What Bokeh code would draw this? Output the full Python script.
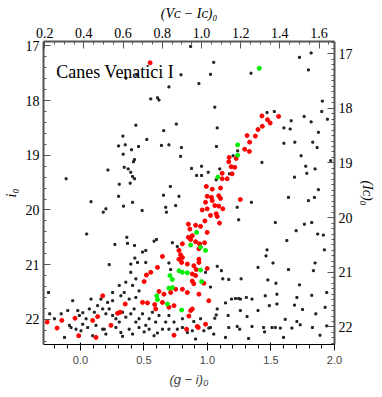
from bokeh.plotting import figure
from bokeh.models import Range1d, LinearAxis, SingleIntervalTicker, Label, PrintfTickFormatter
from bokeh.embed import file_html
from bokeh.resources import INLINE

# ---- data: (g-i)_0 colour and i_0 magnitude ----
black_gi = [0.359, 0.444, 0.697, 0.792, 0.554, 0.607, 0.619, 0.437, 0.755, 0.656, 0.335, 0.523, 0.301, 0.353,
            0.458, 0.638, 0.697, 0.403, 0.795, 0.789, 0.337, 0.426, 0.418, 0.217, 0.345, 0.376, 0.397, 0.411,
            0.426, -0.112, 0.868, 1.724, 1.816, 1.050, 1.024, 1.343, 1.795, 0.933, 1.904, 1.058, 1.469, 1.526,
            1.659, 1.761, 1.816, 1.900, 1.944, 1.077, 1.602, 1.651, 1.873, 1.602, 1.688, 1.829, 1.863, 1.071,
            1.238, 1.202, 1.429, 1.737, 1.970, 0.875, 0.954, 1.097, 1.774, 1.847, 1.006, 0.915, 0.954, 1.173,
            1.782, 1.685, 1.069,
            -0.251, 0.084, 0.180, 0.201, 0.050, 0.301, 0.340, 0.411, 0.392, 0.306, 0.486, 0.654, 0.708, 0.776,
            0.750, 0.672, 0.677, 0.272, 0.227, 0.366, 0.371, 0.426, 0.429, 0.489, 0.515, 0.580, 0.599, 0.724,
            0.763, 0.697, 0.711, 0.397, 0.450, 0.515, 0.397, 0.437,
            -0.241, -0.204, -0.151, -0.099, -0.060, -0.020, -0.008, 0.019, 0.045, 0.071, 0.084, 0.110, 0.136,
            0.176, 0.201, 0.227, 0.254, 0.280, 0.306, 0.332, 0.358, 0.397, 0.423, 0.437, 0.462, 0.489, 0.515,
            0.541, 0.567, 0.593, 0.619, 0.646, 0.672, 0.697, 0.737, 0.763, 0.803, -0.086, -0.034, 0.019, 0.123,
            0.188, 0.254, 0.319, 0.345, 0.384, 0.437, 0.462, 0.411, 0.358, 0.306, 0.254, 0.215, 0.162,
            1.234, 1.346, 1.246, 1.534, 1.638, 1.763, 1.821, 1.625, 1.698, 1.795, 1.842, 1.873, 1.868, 1.912,
            1.920, 1.469, 1.461, 1.516, 1.398, 1.638, 1.834, 1.847, 1.476, 1.539, 1.724, 1.110, 1.121, 1.077,
            1.265, 1.168, 1.024, 0.985, 1.547, 1.704, 1.821, 1.939, 1.455, 1.351, 1.306, 1.220, 1.246, 1.259,
            1.189, 1.142, 1.487, 1.547, 1.685, 1.748, 1.853, 1.926, 1.259, 1.398, 1.312, 1.163, 1.077, 1.069,
            1.058, 1.612, 1.704, 1.442, 1.168, 1.234, 1.254, 1.351, 1.508, 1.573, 1.665, 1.826, 1.939, 1.024,
            0.972, 0.946, 0.893,
            -0.125, -0.073, 0.005, 0.058, 0.097, 0.176, 0.201, 0.280, 0.319, 0.332, 0.384, 0.411, 0.462, 0.502,
            0.541, 0.580, 0.607, 0.697, 0.803, 0.842, 0.881, 1.011, 1.050, 1.450, 1.534, 1.599, 1.730, 1.886,
            1.142, 1.324, 0.907]
black_i0 = [17.59, 17.53, 17.75, 17.53, 17.97, 17.95, 17.99, 18.45, 18.43, 18.55, 18.65, 18.71, 18.83, 18.81,
            18.84, 18.82, 18.81, 18.90, 18.86, 19.02, 18.98, 19.08, 19.12, 19.27, 19.22, 19.25, 19.31, 19.39,
            19.43, 19.43, 17.01, 17.21, 17.13, 17.30, 17.52, 17.50, 17.44, 17.69, 18.01, 18.12, 18.22, 18.20,
            18.37, 18.29, 18.39, 18.20, 18.34, 18.50, 18.50, 18.52, 18.58, 18.78, 18.76, 18.76, 18.86, 18.84,
            18.92, 19.01, 19.13, 19.01, 19.10, 19.24, 19.20, 19.25, 19.20, 19.25, 19.31, 19.37, 19.37, 19.34,
            19.33, 19.40, 19.45,
            21.51, 19.85, 20.04, 19.98, 20.44, 19.75, 19.93, 19.86, 19.51, 19.53, 20.01, 19.73, 19.57, 19.75,
            19.92, 19.95, 20.04, 20.63, 21.00, 20.50, 20.61, 20.65, 20.88, 20.77, 20.74, 20.57, 20.54, 20.60,
            20.67, 20.97, 21.09, 20.99, 20.96, 20.96, 21.14, 21.26,
            21.90, 21.99, 21.90, 21.84, 21.66, 21.84, 21.93, 21.88, 21.99, 21.81, 21.63, 21.87, 21.75,
            21.81, 21.90, 21.81, 21.93, 21.99, 22.05, 21.87, 21.96, 21.90, 21.81, 22.05, 21.99, 21.90, 22.11,
            21.99, 21.87, 22.05, 21.93, 22.18, 22.05, 21.93, 22.05, 22.18, 21.99, 22.11, 22.18, 22.09, 22.11,
            22.18, 21.66, 21.57, 21.51, 21.63, 21.60, 21.48, 21.38, 21.32, 21.38, 21.51, 21.69, 21.63,
            19.95, 19.86, 20.18, 20.23, 19.77, 20.26, 20.23, 20.56, 20.38, 19.83, 19.77, 19.63, 20.44, 20.46,
            20.73, 20.73, 20.84, 20.97, 21.05, 21.09, 21.11, 20.97, 21.28, 21.34, 21.37, 21.11, 21.26, 21.03,
            21.26, 21.27, 21.41, 21.14, 21.54, 21.60, 21.56, 21.51, 21.57, 21.63, 21.60, 21.62, 21.62, 21.63,
            21.63, 21.70, 21.75, 21.72, 21.74, 21.82, 21.90, 21.78, 21.84, 21.84, 21.95, 21.93, 21.81, 21.92,
            21.98, 22.00, 22.04, 22.15, 22.15, 22.13, 22.18, 22.13, 22.15, 22.16, 22.16, 22.15, 22.12, 22.15,
            22.21, 21.99, 22.04,
            22.33, 22.15, 22.21, 22.15, 22.30, 22.18, 22.27, 22.15, 22.24, 22.31, 22.18, 22.27, 22.15, 22.23,
            22.18, 22.30, 22.25, 22.18, 22.15, 22.24, 22.21, 22.16, 22.27, 22.23, 22.15, 22.33, 22.10, 22.29,
            22.33, 22.35, 22.36]

red_gi = [0.549, 1.429, 1.560, 1.473, 1.494, 1.432, 1.398, 1.312, 1.377, 1.332, 1.293, 1.330, 1.171, 1.226,
          1.168, 1.187, 1.215, 1.116, 1.194, 1.116, 1.155, 0.991, 1.038, 1.103, 0.998, 1.032, 1.089, 1.103,
          1.259, 0.985, 1.038, 1.058, 1.089, 1.121, 0.959, 0.998, 1.024, 1.069, 1.077, 0.980, 1.095, 0.850,
          0.907, 0.946, 0.998, 0.862, 0.881, 0.850, 0.868, 0.907, 0.938, 0.977, 0.933, 0.803, 0.776, 0.789,
          0.803, 0.776, 0.797, 0.646, 0.933, 0.933, 0.893, 0.842, 0.998, 0.912, 0.607, 0.554, 0.520, 0.881,
          0.907, 0.502, 0.881, 0.893, 0.972, 0.619, 0.658, 0.711, 0.750, 0.803, 0.842, 0.933, 0.176, 0.646,
          0.697, 0.737, 0.585, 0.593, 0.489, 0.528, 0.353, 0.313, 0.293, 1.011, 0.881, 0.868, 0.854, 0.136,
          0.097, -0.042, -0.146, -0.261, -0.183, 0.241, 0.985, 0.920, 0.836, -0.013, 0.123, 0.737, 0.928]
red_i0 = [17.31, 18.28, 18.29, 18.35, 18.41, 18.47, 18.53, 18.64, 18.65, 18.76, 18.89, 18.93, 19.04, 19.06,
          19.12, 19.21, 19.22, 19.33, 19.34, 19.43, 19.43, 19.57, 19.62, 19.60, 19.75, 19.77, 19.74, 19.79,
          19.81, 19.86, 19.83, 19.92, 19.93, 19.98, 20.00, 19.98, 20.10, 20.07, 20.12, 20.20, 20.24, 20.26,
          20.28, 20.30, 20.41, 20.35, 20.47, 20.50, 20.54, 20.58, 20.62, 20.60, 20.71, 20.62, 20.74, 20.82,
          20.87, 20.90, 20.96, 20.85, 20.90, 20.96, 21.02, 20.99, 21.07, 21.09, 21.05, 21.14, 21.19, 21.17,
          21.20, 21.31, 21.30, 21.35, 21.34, 21.49, 21.54, 21.51, 21.45, 21.45, 21.51, 21.54, 21.57, 21.69,
          21.78, 21.75, 21.73, 21.81, 21.69, 21.70, 21.72, 21.87, 21.89, 21.66, 21.81, 21.84, 21.94, 21.95,
          22.02, 21.98, 22.02, 22.05, 22.16, 22.11, 22.09, 22.13, 22.18, 22.30, 22.33, 22.29, 22.15]

green_gi = [1.408, 1.238, 1.238, 1.082, 0.915, 0.868, 0.946, 0.985, 0.946, 0.842, 0.954, 0.776, 0.705, 0.803,
            0.724, 0.697, 0.724, 0.601, 0.607, 0.685, 0.797]
green_i0 = [17.41, 18.81, 19.00, 19.40, 20.41, 20.64, 20.68, 20.74, 21.10, 21.15, 21.31, 21.11, 21.20, 21.14,
            21.27, 21.43, 21.42, 21.57, 21.64, 21.72, 21.83]

title_text = "Canes Venatici I"
xlabel = "(g \u2212 i)\u2080"
ylabel = "i\u2080"
toplabel = "(V\u1d04 \u2212 I\u1d04)\u2080"
rightlabel = "(I\u1d04)\u2080"

FONT = "Liberation Serif"
AXIS_COLOR = "#555555"

p = figure(frame_width=291, frame_height=303,
           min_border_left=39, min_border_right=40, min_border_top=41, min_border_bottom=40,
           x_range=Range1d(-0.29, 2.0), y_range=Range1d(22.46, 16.92),
           output_backend="svg", toolbar_location=None,
           background_fill_color="white", border_fill_color="white")
p.grid.visible = False
p.outline_line_color = None

p.extra_x_ranges = {"vi": Range1d(0.194, 1.679)}
p.extra_y_ranges = {"ic": Range1d(22.32, 16.78)}

p.xaxis.ticker = SingleIntervalTicker(interval=0.5, num_minor_ticks=5)
p.xaxis.formatter = PrintfTickFormatter(format="%.1f")
p.yaxis.ticker = SingleIntervalTicker(interval=1, num_minor_ticks=5)
p.xaxis.axis_label = xlabel
p.yaxis.axis_label = ylabel

top = LinearAxis(x_range_name="vi", ticker=SingleIntervalTicker(interval=0.2, num_minor_ticks=4),
                 formatter=PrintfTickFormatter(format="%.1f"), axis_label=toplabel)
right = LinearAxis(y_range_name="ic", ticker=SingleIntervalTicker(interval=1, num_minor_ticks=10),
                   axis_label=rightlabel)
p.add_layout(top, "above")
p.add_layout(right, "right")

for ax in [p.xaxis[0], p.yaxis[0], top, right]:
    ax.axis_line_color = AXIS_COLOR
    ax.axis_line_width = 2
    ax.major_tick_line_color = AXIS_COLOR
    ax.minor_tick_line_color = AXIS_COLOR
    ax.major_tick_in = 7
    ax.major_tick_out = 0
    ax.minor_tick_in = 3
    ax.minor_tick_out = 0
    ax.major_label_text_font = FONT
    ax.major_label_text_font_size = "14px"
    ax.major_label_text_color = "black"
    ax.axis_label_text_font = FONT
    ax.axis_label_text_font_size = "14px"
    ax.axis_label_text_font_style = "italic"
    ax.axis_label_text_color = "black"
    ax.major_label_standoff = 4
    ax.axis_label_standoff = 4

p.yaxis[0].major_label_orientation = "horizontal"
right.major_label_orientation = "horizontal"

p.scatter(black_gi, black_i0, size=2, color="#222222", marker="square")
p.scatter(red_gi, red_i0, size=4, color="red", marker="circle")
p.scatter(green_gi, green_i0, size=4, color="#00ee00", marker="circle")

p.add_layout(Label(x=-0.19, y=17.48, text=title_text, text_font=FONT, text_font_size="18px",
                   text_color="black", text_baseline="alphabetic"))

open("out.html", "w").write(file_html(p, INLINE))
